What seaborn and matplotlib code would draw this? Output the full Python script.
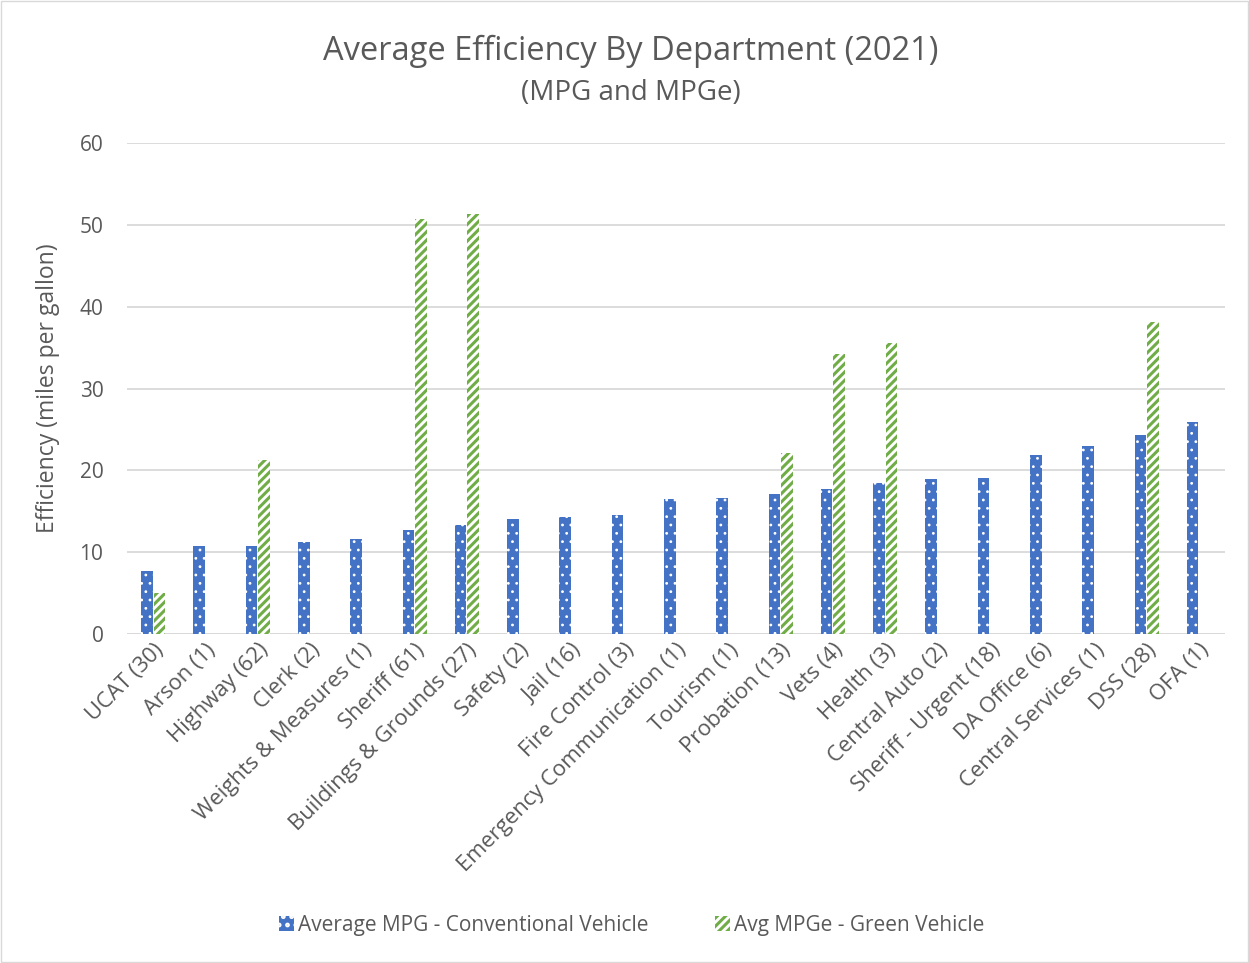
import pandas as pd
import matplotlib
matplotlib.use("Agg")
import matplotlib.pyplot as plt
import seaborn as sns
from matplotlib.patches import Patch, Rectangle

departments = ["UCAT (30)", "Arson (1)", "Highway (62)", "Clerk (2)", "Weights & Measures (1)",
               "Sheriff (61)", "Buildings & Grounds (27)", "Safety (2)", "Jail (16)", "Fire Control (3)",
               "Emergency Communication (1)", "Tourism (1)", "Probation (13)", "Vets (4)", "Health (3)",
               "Central Auto (2)", "Sheriff - Urgent (18)", "DA Office (6)", "Central Services (1)",
               "DSS (28)", "OFA (1)"]
mpg_conventional = [7.7, 10.8, 10.8, 11.2, 11.6, 12.7, 13.3, 14.1, 14.3, 14.5, 16.5, 16.6,
                    17.1, 17.7, 18.4, 19.0, 19.1, 21.9, 23.0, 24.3, 25.9]
mpge_green = [5.0, 0, 21.3, 0, 0, 50.7, 51.3, 0, 0, 0, 0, 0,
              22.1, 34.2, 35.6, 0, 0, 0, 0, 38.1, 0]

series_names = ["Average MPG - Conventional Vehicle", "Avg MPGe - Green Vehicle"]

df = pd.DataFrame({"Department": departments * 2,
                   "Efficiency": mpg_conventional + mpge_green,
                   "Series": [series_names[0]] * len(departments) + [series_names[1]] * len(departments)})

sns.set_theme(style="white")
plt.rcParams["font.family"] = ["Open Sans", "DejaVu Sans"]
plt.rcParams["hatch.linewidth"] = 2.2
text_color = "#595959"
blue = "#4472C4"
green = "#70AD47"


def style_patch(p, kind):
    p.set_linewidth(0)
    if kind == 0:
        p.set_facecolor(blue)
        p.set_edgecolor("white")
        p.set_hatch("..")
        if hasattr(p, "set_hatch_linewidth"):
            p.set_hatch_linewidth(0.8)
    else:
        p.set_facecolor("white")
        p.set_edgecolor(green)
        p.set_hatch("////")
        if hasattr(p, "set_hatch_linewidth"):
            p.set_hatch_linewidth(2.2)


fig = plt.figure(figsize=(12.49, 9.63), dpi=100)
ax = fig.add_axes([0.1017, 0.3416, 0.8791, 0.5099])

sns.barplot(data=df, x="Department", y="Efficiency", hue="Series", palette=[blue, green],
            width=0.48, gap=0.08, ax=ax, legend=False)

n = len(departments)
for i, bar in enumerate(ax.patches[:2 * n]):
    style_patch(bar, 0 if i < n else 1)

ax.set_ylim(0, 60)
ax.set_yticks(range(0, 61, 10))
ax.yaxis.grid(True, color="#D9D9D9", linewidth=1.3)
ax.set_axisbelow(True)
for s in ["top", "right", "left", "bottom"]:
    ax.spines[s].set_visible(False)
ax.axhline(0, color="#D9D9D9", linewidth=1.3, zorder=0)

ax.set_xlabel("")
ax.set_ylabel("Efficiency (miles per gallon)", fontsize=16.5, color=text_color, labelpad=14)
ax.tick_params(axis="y", labelsize=15, colors=text_color, length=0, pad=17)
ax.tick_params(axis="x", labelsize=15.8, colors=text_color, length=0, pad=4)
plt.setp(ax.get_xticklabels(), rotation=45, ha="right", rotation_mode="anchor")

fig.text(0.505, 0.947, "Average Efficiency By Department (2021)", ha="center", va="center",
         fontsize=23.5, color=text_color)
fig.text(0.505, 0.903, "(MPG and MPGe)", ha="center", va="center", fontsize=20, color=text_color)

handles = [Patch(), Patch()]
style_patch(handles[0], 0)
style_patch(handles[1], 1)
fig.legend(handles, series_names, loc="center", bbox_to_anchor=(0.506, 0.039), ncol=2, frameon=False,
           fontsize=15, labelcolor=text_color, handlelength=0.7, handleheight=0.7,
           handletextpad=0.2, columnspacing=3.2)

fig.patches.append(Rectangle((0.001, 0.001), 0.998, 0.998, transform=fig.transFigure,
                             fill=False, edgecolor="#D9D9D9", linewidth=1))

fig.savefig("out.png", dpi=100)
